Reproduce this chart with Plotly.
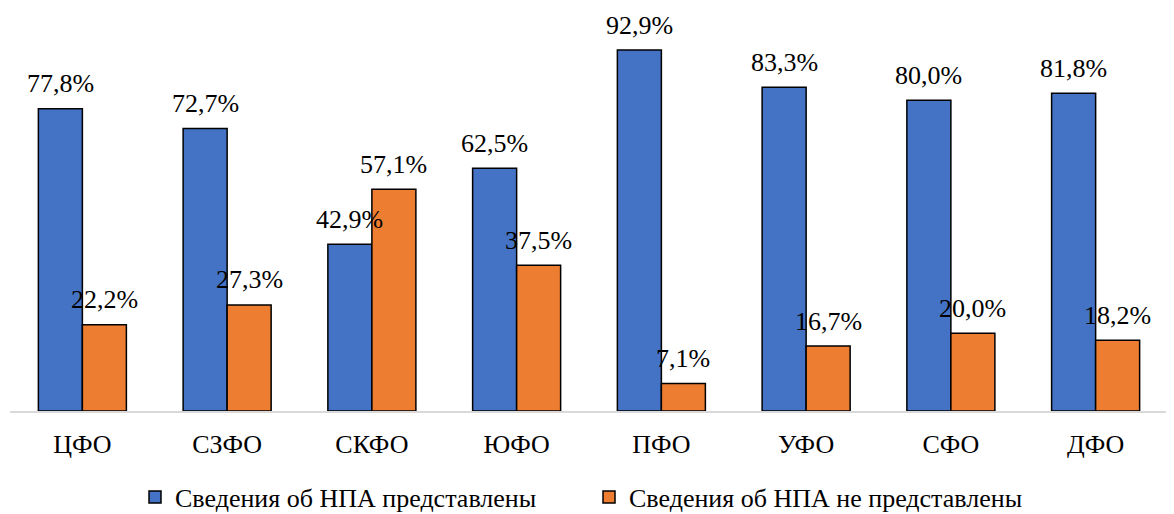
import plotly.graph_objects as go

categories = ["ЦФО", "СЗФО", "СКФО", "ЮФО", "ПФО", "УФО", "СФО", "ДФО"]
presented = [77.8, 72.7, 42.9, 62.5, 92.9, 83.3, 80.0, 81.8]
not_presented = [22.2, 27.3, 57.1, 37.5, 7.1, 16.7, 20.0, 18.2]
series_names = ["Сведения об НПА представлены", "Сведения об НПА не представлены"]

font_family = "Liberation Serif"
fsize = 26

fig = go.Figure()
fig.add_trace(go.Bar(
    x=categories, y=presented, name=series_names[0],
    marker=dict(color="#4472C4", line=dict(color="black", width=1.5)),
))
fig.add_trace(go.Bar(
    x=categories, y=not_presented, name=series_names[1],
    marker=dict(color="#ED7D31", line=dict(color="black", width=1.5)),
))

annotations = []
for vals, shift in ((presented, -22), (not_presented, 22)):
    for c, v in zip(categories, vals):
        annotations.append(dict(
            x=c, y=v, xref="x", yref="y", text=f"{v:.1f}%".replace(".", ","),
            showarrow=False, xshift=shift, yshift=25, yanchor="middle",
            font=dict(size=fsize, color="black", family=font_family),
        ))

fig.update_layout(
    width=1166, height=506,
    barmode="group", bargap=0.392, bargroupgap=0,
    plot_bgcolor="white", paper_bgcolor="white",
    margin=dict(l=2, r=6, t=2, b=103),
    font=dict(family=font_family, size=fsize, color="black"),
    xaxis=dict(showline=True, linecolor="#D9D9D9", linewidth=1.5,
               showgrid=False, ticks="", ticklabelstandoff=9,
               tickfont=dict(size=fsize, family=font_family, color="black")),
    yaxis=dict(range=[0, 103.2], visible=False, showgrid=False),
    legend=dict(orientation="h", x=0.5, xanchor="center", xref="paper",
                y=17 / 506, yanchor="middle", yref="container",
                font=dict(size=fsize, family=font_family, color="black"),
                traceorder="normal", itemwidth=30, entrywidth=409, entrywidthmode="pixels"),
    annotations=annotations,
)
fig.write_html("out.html")
